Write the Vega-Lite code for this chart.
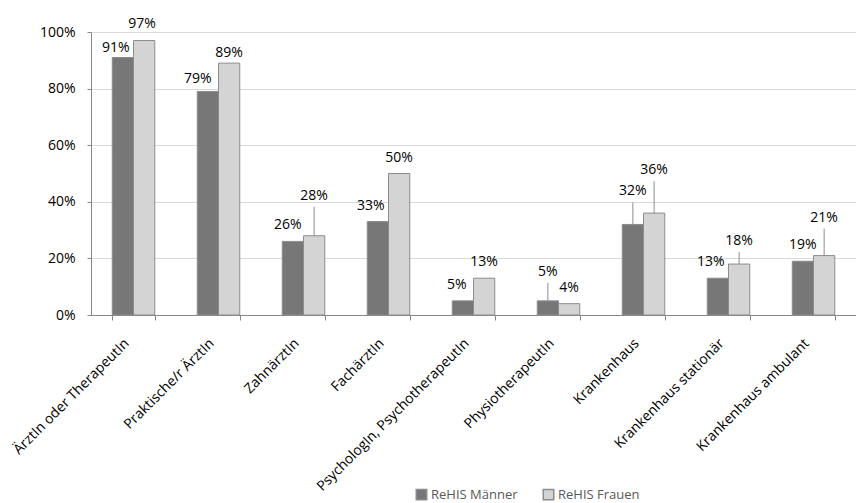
{
  "$schema": "https://vega.github.io/schema/vega-lite/v6.json",
  "width": 765,
  "height": 283,
  "autosize": {"type": "none"},
  "padding": {"left": 91, "top": 32, "right": 0, "bottom": 188},
  "background": "white",
  "config": {
    "view": {"stroke": null},
    "font": "Open Sans",
    "axis": {"labelFont": "Open Sans", "labelColor": "#000000", "labelFontSize": 14, "domainColor": "#868686", "tickColor": "#868686", "gridColor": "#d9d9d9", "title": null}
  },
  "data": {
    "values": [
      {"cat": "ÄrztIn oder TherapeutIn", "s": "ReHIS Männer", "v": 0.91},
      {"cat": "ÄrztIn oder TherapeutIn", "s": "ReHIS Frauen", "v": 0.97},
      {"cat": "Praktische/r ÄrztIn", "s": "ReHIS Männer", "v": 0.79},
      {"cat": "Praktische/r ÄrztIn", "s": "ReHIS Frauen", "v": 0.89},
      {"cat": "ZahnärztIn", "s": "ReHIS Männer", "v": 0.26},
      {"cat": "ZahnärztIn", "s": "ReHIS Frauen", "v": 0.28},
      {"cat": "FachärztIn", "s": "ReHIS Männer", "v": 0.33},
      {"cat": "FachärztIn", "s": "ReHIS Frauen", "v": 0.50},
      {"cat": "PsychologIn, PsychotherapeutIn", "s": "ReHIS Männer", "v": 0.05},
      {"cat": "PsychologIn, PsychotherapeutIn", "s": "ReHIS Frauen", "v": 0.13},
      {"cat": "PhysiotherapeutIn", "s": "ReHIS Männer", "v": 0.05},
      {"cat": "PhysiotherapeutIn", "s": "ReHIS Frauen", "v": 0.04},
      {"cat": "Krankenhaus", "s": "ReHIS Männer", "v": 0.32},
      {"cat": "Krankenhaus", "s": "ReHIS Frauen", "v": 0.36},
      {"cat": "Krankenhaus stationär", "s": "ReHIS Männer", "v": 0.13},
      {"cat": "Krankenhaus stationär", "s": "ReHIS Frauen", "v": 0.18},
      {"cat": "Krankenhaus ambulant", "s": "ReHIS Männer", "v": 0.19},
      {"cat": "Krankenhaus ambulant", "s": "ReHIS Frauen", "v": 0.21}
    ]
  },
  "encoding": {
    "x": {
      "field": "cat", "type": "nominal", "sort": null,
      "scale": {"paddingInner": 0.5, "paddingOuter": 0.25},
      "axis": {"labelAngle": -45, "tickBand": "extent", "tickSize": 5, "labelPadding": 16, "labelOffset": -12, "labelLimit": 400, "domainWidth": 1}
    },
    "xOffset": {"field": "s", "type": "nominal", "sort": ["ReHIS Männer", "ReHIS Frauen"], "scale": {"paddingInner": 0, "paddingOuter": 0}},
    "y": {
      "field": "v", "type": "quantitative",
      "scale": {"domain": [0, 1], "nice": false},
      "axis": {"format": ".0%", "values": [0, 0.2, 0.4, 0.6, 0.8, 1], "tickSize": 4, "labelPadding": 12, "grid": true, "domain": true}
    }
  },
  "layer": [
    {
      "mark": {"type": "bar", "stroke": "#8c8c8c", "strokeWidth": 1},
      "encoding": {
        "fill": {
          "field": "s", "type": "nominal",
          "scale": {"domain": ["ReHIS Männer", "ReHIS Frauen"], "range": ["#777777", "#d4d4d4"]},
          "legend": {
            "orient": "none", "legendX": 324, "legendY": 456, "direction": "horizontal", "title": null,
            "symbolType": "square", "symbolSize": 110, "labelFont": "Open Sans", "labelFontSize": 13, "labelColor": "#595959",
            "columnPadding": 22, "labelOffset": 3
          }
        }
      }
    },
    {
      "transform": [
        {"filter": "(datum.cat=='ZahnärztIn'&&datum.s=='ReHIS Frauen')||(datum.cat=='Krankenhaus')||(datum.cat=='Krankenhaus stationär'&&datum.s=='ReHIS Frauen')||(datum.cat=='Krankenhaus ambulant'&&datum.s=='ReHIS Frauen')||(datum.cat=='PhysiotherapeutIn'&&datum.s=='ReHIS Männer')"}
      ],
      "mark": {
        "type": "rule", "color": "#8c8c8c", "strokeWidth": 1,
        "y2Offset": {"expr": "datum.cat=='ZahnärztIn'?-29:datum.cat=='Krankenhaus'&&datum.s=='ReHIS Männer'?-22:datum.cat=='Krankenhaus'?-32:datum.cat=='Krankenhaus stationär'?-12:datum.cat=='Krankenhaus ambulant'?-27:-18"}
      },
      "encoding": {"y2": {"field": "v"}}
    },
    {
      "mark": {
        "type": "text", "baseline": "alphabetic", "align": "center", "fontSize": 14, "font": "Open Sans", "color": "#000000",
        "dy": {"expr": "datum.cat=='ZahnärztIn'&&datum.s=='ReHIS Frauen'?-36:datum.cat=='Krankenhaus'&&datum.s=='ReHIS Männer'?-29:datum.cat=='Krankenhaus'?-39:datum.cat=='Krankenhaus stationär'&&datum.s=='ReHIS Frauen'?-19:datum.cat=='Krankenhaus ambulant'&&datum.s=='ReHIS Frauen'?-34:datum.cat=='PhysiotherapeutIn'&&datum.s=='ReHIS Männer'?-25:datum.cat=='ÄrztIn oder TherapeutIn'&&datum.s=='ReHIS Männer'?-5:datum.cat=='Praktische/r ÄrztIn'&&datum.s=='ReHIS Männer'?-8:datum.cat=='Praktische/r ÄrztIn'?-6:-12"},
        "dx": {"expr": "datum.s=='ReHIS Männer'&&datum.cat=='ÄrztIn oder TherapeutIn'?-7:datum.s=='ReHIS Männer'&&datum.cat=='Praktische/r ÄrztIn'?-10:datum.s=='ReHIS Männer'&&datum.cat=='ZahnärztIn'?-5:datum.s=='ReHIS Männer'&&datum.cat=='FachärztIn'?-7:datum.s=='ReHIS Männer'&&datum.cat=='PsychologIn, PsychotherapeutIn'?-6:datum.s=='ReHIS Männer'&&datum.cat=='Krankenhaus stationär'?-7:datum.s=='ReHIS Frauen'&&datum.cat=='ÄrztIn oder TherapeutIn'?-2:0"}
      },
      "encoding": {"text": {"field": "v", "type": "quantitative", "format": ".0%"}}
    }
  ]
}
